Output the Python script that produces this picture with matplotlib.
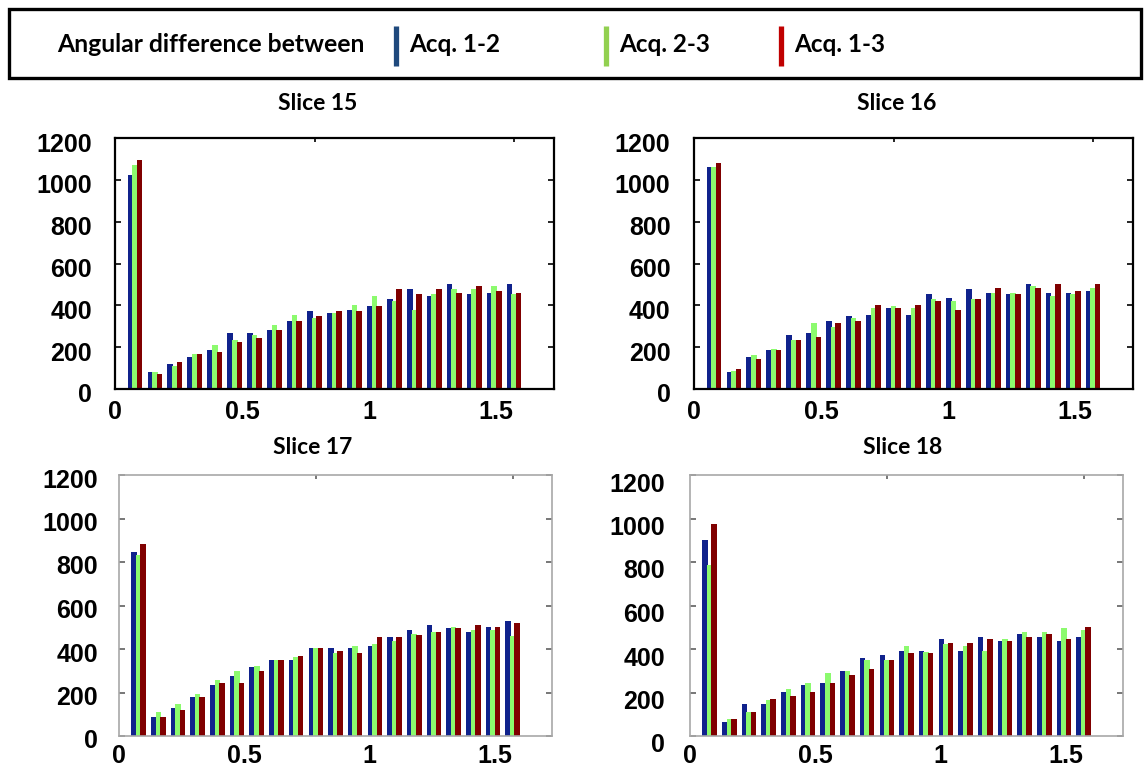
import numpy as np
import matplotlib
matplotlib.use("Agg")
import matplotlib.pyplot as plt
from matplotlib.patches import Rectangle
from matplotlib.lines import Line2D
import matplotlib.transforms as mtransforms

W, H, DPI = 1144, 772, 100

# Histogram bins of the angular difference (20 bins of pi/40 rad)
bin_centres = np.arange(1, 21) * np.pi / 40
x_ticks = [0, 0.5, 1, 1.5]
x_tick_labels = ["0", "0.5", "1", "1.5"]
y_ticks = [0, 200, 400, 600, 800, 1000, 1200]

series_labels = ["Acq. 1-2", "Acq. 2-3", "Acq. 1-3"]
slice_titles = ["Slice 15", "Slice 16", "Slice 17", "Slice 18"]

# Counts per bin, one list per acquisition pair
s15_12 = [1025, 83, 121, 155, 188, 269, 269, 284, 327, 375, 365, 379, 399, 432, 480, 446, 504, 456, 461, 504]
s15_23 = [1073, 83, 112, 169, 212, 236, 260, 308, 355, 341, 365, 403, 446, 422, 379, 456, 480, 480, 494, 456]
s15_13 = [1097, 73, 131, 169, 179, 226, 245, 284, 327, 351, 375, 375, 399, 480, 456, 480, 461, 494, 470, 461]

s16_12 = [1063, 83, 155, 188, 260, 269, 327, 351, 355, 389, 355, 456, 437, 480, 461, 456, 504, 461, 461, 470]
s16_23 = [1063, 88, 164, 193, 236, 317, 298, 341, 389, 399, 389, 432, 422, 432, 461, 461, 494, 446, 456, 485]
s16_13 = [1082, 97, 145, 188, 236, 250, 317, 327, 403, 389, 403, 422, 379, 432, 485, 456, 485, 504, 470, 504]

s17_12 = [844, 89, 130, 178, 233, 276, 316, 349, 349, 406, 406, 406, 414, 454, 487, 510, 495, 478, 503, 527]
s17_23 = [834, 112, 146, 192, 259, 299, 322, 349, 365, 406, 380, 414, 421, 437, 469, 478, 503, 487, 487, 461]
s17_13 = [884, 89, 121, 178, 244, 244, 299, 349, 366, 406, 389, 380, 454, 454, 463, 478, 495, 510, 503, 518]

s18_12 = [901, 64, 146, 146, 202, 236, 242, 299, 357, 372, 389, 389, 446, 389, 454, 438, 470, 454, 438, 454]
s18_23 = [785, 80, 112, 166, 218, 242, 291, 299, 348, 348, 412, 388, 421, 412, 389, 446, 478, 478, 495, 487]
s18_13 = [975, 80, 112, 169, 185, 202, 242, 282, 307, 348, 380, 380, 429, 429, 446, 437, 454, 469, 446, 503]

slices = [
    (s15_12, s15_23, s15_13),
    (s16_12, s16_23, s16_13),
    (s17_12, s17_23, s17_13),
    (s18_12, s18_23, s18_13),
]

bar_colors = ["#10228C", "#8CFA6E", "#800000"]
legend_colors = ["#1F497D", "#92D050", "#C00000"]

# Panel layout in pixels: left, top, right, bottom, title centre (x, y),
# spine colour, y-label pad, x-label pad, y-label vertical shift
panels = [
    dict(box=(115, 138, 554, 389), title=(318, 103), spine="black", lw=1.6, ypad=16.5, xpad=8.0, dy=4),
    dict(box=(694, 138, 1133, 389), title=(897, 103), spine="black", lw=1.6, ypad=17.0, xpad=8.0, dy=4),
    dict(box=(119, 475, 552, 736), title=(313, 448), spine="#A8A8A8", lw=1.2, ypad=15.0, xpad=6.0, dy=3),
    dict(box=(690, 475, 1123, 736), title=(903, 448), spine="#A8A8A8", lw=1.2, ypad=18.0, xpad=6.0, dy=7),
]

plt.rcParams["font.family"] = ["Liberation Sans", "DejaVu Sans"]

fig = plt.figure(figsize=(W / DPI, H / DPI), dpi=DPI)
fig.patch.set_facecolor("white")

def fx(x):
    return x / W

def fy(y):
    return 1 - y / H

step = np.pi / 40
offset = 0.23 * step
width = 0.28 * step

for (series, cfg, title) in zip(slices, panels, slice_titles):
    l, t, r, b = cfg["box"]
    ax = fig.add_axes([fx(l), fy(b), (r - l) / W, (b - t) / H])
    for j, (vals, col) in enumerate(zip(series, bar_colors)):
        ax.bar(bin_centres + (j - 1) * offset, vals, width=width,
               color=col, linewidth=0, zorder=2)
    ax.set_xlim(0.004, 22 * step)
    ax.set_ylim(0, 1200)
    ax.set_xticks(x_ticks)
    ax.set_xticklabels(x_tick_labels)
    ax.set_yticks(y_ticks)
    ax.set_yticklabels([str(v) for v in y_ticks])
    for sp in ax.spines.values():
        sp.set_color(cfg["spine"])
        sp.set_linewidth(cfg["lw"])
    tick_col = "black" if cfg["spine"] == "black" else "#606060"
    ax.tick_params(axis="y", which="both", direction="in", left=True, right=True,
                   length=4.5, width=1.2, color=tick_col, labelsize=18,
                   pad=cfg["ypad"])
    ax.tick_params(axis="x", which="both", length=0, labelsize=18, pad=cfg["xpad"])
    for lab in ax.get_xticklabels() + ax.get_yticklabels():
        lab.set_fontweight("bold")
    shift = mtransforms.ScaledTranslation(0, -cfg["dy"] / DPI, fig.dpi_scale_trans)
    for lab in ax.get_yticklabels():
        lab.set_transform(lab.get_transform() + shift)
    top = ax.secondary_xaxis("top")
    top.set_xticks([10 * step, 20 * step])
    top.tick_params(direction="in", length=3, width=1.2, color=tick_col, labeltop=False)
    top.spines["top"].set_visible(False)
    fig.text(fx(cfg["title"][0]), fy(cfg["title"][1]), title, ha="center", va="center",
             fontsize=16.5, fontweight="bold", family=["Lato", "DejaVu Sans"])

# Legend strip across the top
fig.add_artist(Rectangle((fx(9), fy(78)), (1141 - 9) / W, (78 - 9) / H,
                         transform=fig.transFigure, facecolor="white",
                         edgecolor="black", linewidth=2.4, zorder=0))
fig.text(fx(57), fy(45), "Angular difference between", ha="left", va="center",
         fontsize=17.8, fontweight="bold", family=["Lato", "DejaVu Sans"])
legend_x = [396, 606, 781]
for xl, col, lab in zip(legend_x, legend_colors, series_labels):
    fig.add_artist(Line2D([fx(xl), fx(xl)], [fy(66), fy(26)], transform=fig.transFigure,
                          color=col, linewidth=3.8, solid_capstyle="butt"))
    fig.text(fx(xl + 13), fy(45), lab, ha="left", va="center",
             fontsize=17.5, fontweight="bold", family=["Lato", "DejaVu Sans"])

fig.savefig("out.png", dpi=DPI, facecolor="white")
